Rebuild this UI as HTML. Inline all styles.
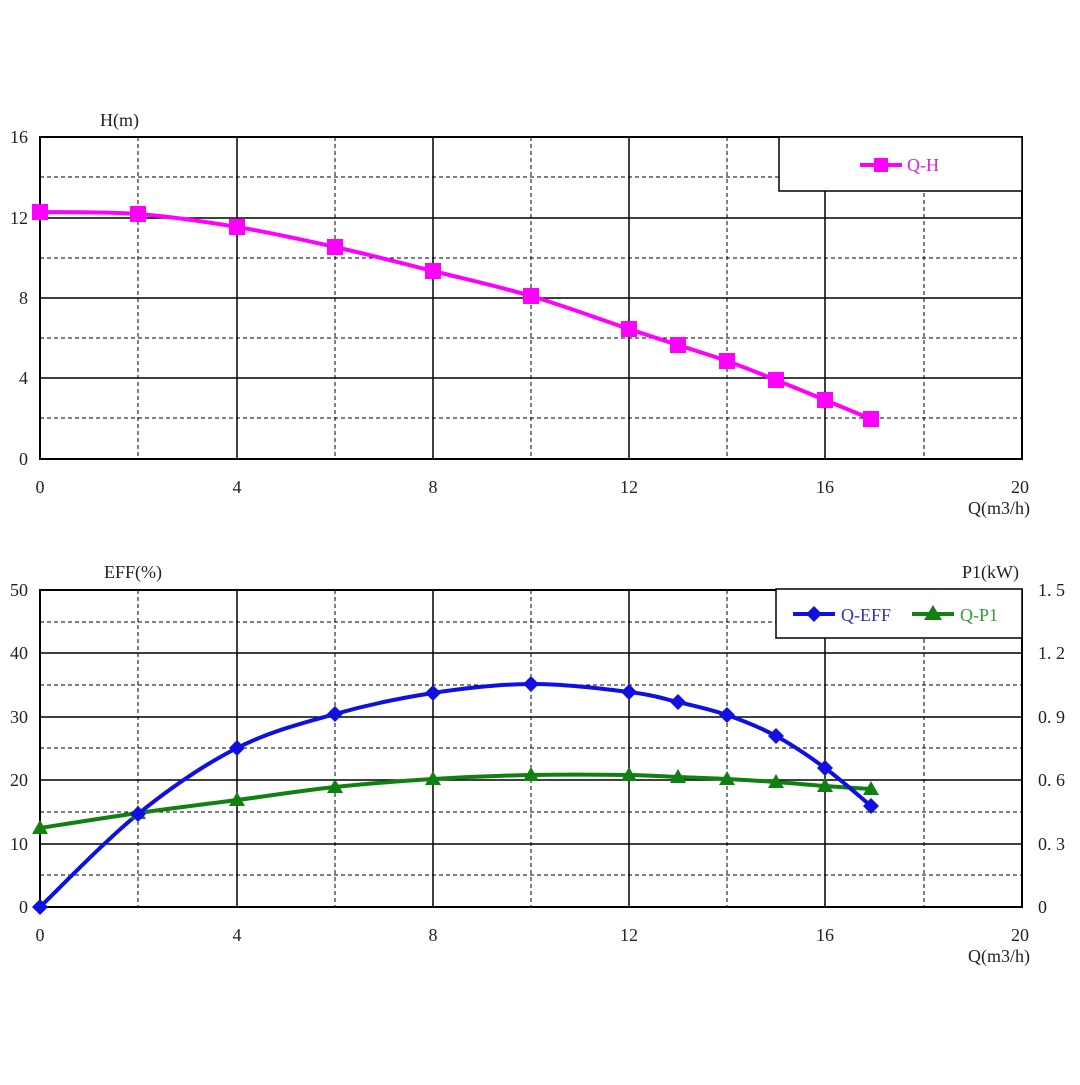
<!DOCTYPE html>
<html><head><meta charset="utf-8"><style>
html,body{margin:0;padding:0;background:#fff;}
svg text{font-family:"Liberation Serif","Noto Serif CJK SC",serif;font-size:18px;fill:#222;}
</style></head><body>
<svg width="1080" height="1080" viewBox="0 0 1080 1080" xmlns="http://www.w3.org/2000/svg">
<rect width="1080" height="1080" fill="#fff"/>
<!-- TOP CHART -->
<g stroke="#000" stroke-width="1" stroke-dasharray="4,3">
<line x1="40" y1="177" x2="1022" y2="177"/><line x1="40" y1="258" x2="1022" y2="258"/>
<line x1="40" y1="338" x2="1022" y2="338"/><line x1="40" y1="418" x2="1022" y2="418"/>
<line x1="138" y1="137" x2="138" y2="459"/><line x1="335" y1="137" x2="335" y2="459"/>
<line x1="531" y1="137" x2="531" y2="459"/><line x1="727" y1="137" x2="727" y2="459"/>
<line x1="924" y1="137" x2="924" y2="459"/>
</g>
<g stroke="#000" stroke-width="1.5">
<line x1="40" y1="218" x2="1022" y2="218"/><line x1="40" y1="298" x2="1022" y2="298"/>
<line x1="40" y1="378" x2="1022" y2="378"/>
<line x1="237" y1="137" x2="237" y2="459"/><line x1="433" y1="137" x2="433" y2="459"/>
<line x1="629" y1="137" x2="629" y2="459"/><line x1="825" y1="137" x2="825" y2="459"/>
<rect x="40" y="137" width="982" height="322" fill="none" stroke-width="2"/>
</g>
<rect x="779" y="137" width="243" height="54" fill="#fff" stroke="#000" stroke-width="1.5"/>
<line x1="860" y1="165" x2="902" y2="165" stroke="#f0f" stroke-width="4"/>
<rect x="874" y="158" width="14" height="14" fill="#f0f"/>
<text x="907" y="171" style="fill:#e020e0">Q-H</text>
<polyline class="sm" fill="none" stroke="#f0f" stroke-width="4" stroke-linejoin="round" points="40,212 138,214 237,227 335,247 433,271 531,296 629,329 678,345 727,361 776,380 825,400 871,419"/>
<g fill="#f0f">
<rect x="32" y="204" width="16" height="16"/><rect x="130" y="206" width="16" height="16"/>
<rect x="229" y="219" width="16" height="16"/><rect x="327" y="239" width="16" height="16"/>
<rect x="425" y="263" width="16" height="16"/><rect x="523" y="288" width="16" height="16"/>
<rect x="621" y="321" width="16" height="16"/><rect x="670" y="337" width="16" height="16"/>
<rect x="719" y="353" width="16" height="16"/><rect x="768" y="372" width="16" height="16"/>
<rect x="817" y="392" width="16" height="16"/><rect x="863" y="411" width="16" height="16"/>
</g>
<text x="100" y="126">H(m)</text>
<g text-anchor="end">
<text x="28" y="143">16</text><text x="28" y="224">12</text><text x="28" y="304">8</text>
<text x="28" y="384">4</text><text x="28" y="465">0</text>
</g>
<g text-anchor="middle">
<text x="40" y="493">0</text><text x="237" y="493">4</text><text x="433" y="493">8</text>
<text x="629" y="493">12</text><text x="825" y="493">16</text><text x="1020" y="493">20</text>
</g>
<text x="1030" y="514" text-anchor="end">Q(m3/h)</text>

<!-- BOTTOM CHART -->
<g stroke="#000" stroke-width="1" stroke-dasharray="4,3">
<line x1="40" y1="622" x2="1022" y2="622"/><line x1="40" y1="685" x2="1022" y2="685"/>
<line x1="40" y1="748" x2="1022" y2="748"/><line x1="40" y1="812" x2="1022" y2="812"/>
<line x1="40" y1="875" x2="1022" y2="875"/>
<line x1="138" y1="590" x2="138" y2="907"/><line x1="335" y1="590" x2="335" y2="907"/>
<line x1="531" y1="590" x2="531" y2="907"/><line x1="727" y1="590" x2="727" y2="907"/>
<line x1="924" y1="590" x2="924" y2="907"/>
</g>
<g stroke="#000" stroke-width="1.5">
<line x1="40" y1="653" x2="1022" y2="653"/><line x1="40" y1="717" x2="1022" y2="717"/>
<line x1="40" y1="780" x2="1022" y2="780"/><line x1="40" y1="844" x2="1022" y2="844"/>
<line x1="237" y1="590" x2="237" y2="907"/><line x1="433" y1="590" x2="433" y2="907"/>
<line x1="629" y1="590" x2="629" y2="907"/><line x1="825" y1="590" x2="825" y2="907"/>
<rect x="40" y="590" width="982" height="317" fill="none" stroke-width="2"/>
</g>
<rect x="776" y="589" width="246" height="49" fill="#fff" stroke="#000" stroke-width="1.5"/>
<line x1="793" y1="614" x2="835" y2="614" stroke="#1010e0" stroke-width="4"/>
<polygon points="814,606 822,614 814,622 806,614" fill="#1010e0"/>
<text x="841" y="621" style="fill:#3030c0">Q-EFF</text>
<line x1="912" y1="614" x2="954" y2="614" stroke="#108010" stroke-width="4"/>
<polygon points="933,605 942,620 924,620" fill="#108010"/>
<text x="960" y="621" style="fill:#30a030">Q-P1</text>
<polyline class="sm" fill="none" stroke="#108010" stroke-width="4" stroke-linejoin="round" points="40,828 138,813 237,800 335,787 433,779 531,775 629,775 678,777 727,779 776,782 825,786 871,789"/>
<polyline class="sm" fill="none" stroke="#1010e0" stroke-width="4" stroke-linejoin="round" points="40,907 138,814 237,748 335,714 433,693 531,684 629,692 678,702 727,715 776,736 825,768 871,806"/>
<g fill="#108010">
<polygon points="40,820 48,834 32,834"/><polygon points="138,805 146,819 130,819"/>
<polygon points="237,792 245,806 229,806"/><polygon points="335,779 343,793 327,793"/>
<polygon points="433,771 441,785 425,785"/><polygon points="531,767 539,781 523,781"/>
<polygon points="629,767 637,781 621,781"/><polygon points="678,769 686,783 670,783"/>
<polygon points="727,771 735,785 719,785"/><polygon points="776,774 784,788 768,788"/>
<polygon points="825,778 833,792 817,792"/><polygon points="871,781 879,795 863,795"/>
</g>
<g fill="#1010e0">
<polygon points="40,899 48,907 40,915 32,907"/><polygon points="138,806 146,814 138,822 130,814"/>
<polygon points="237,740 245,748 237,756 229,748"/><polygon points="335,706 343,714 335,722 327,714"/>
<polygon points="433,685 441,693 433,701 425,693"/><polygon points="531,676 539,684 531,692 523,684"/>
<polygon points="629,684 637,692 629,700 621,692"/><polygon points="678,694 686,702 678,710 670,702"/>
<polygon points="727,707 735,715 727,723 719,715"/><polygon points="776,728 784,736 776,744 768,736"/>
<polygon points="825,760 833,768 825,776 817,768"/><polygon points="871,798 879,806 871,814 863,806"/>
</g>
<text x="104" y="578">EFF(%)</text>
<text x="962" y="578">P1(kW)</text>
<g text-anchor="end">
<text x="28" y="596">50</text><text x="28" y="659">40</text><text x="28" y="723">30</text>
<text x="28" y="786">20</text><text x="28" y="850">10</text><text x="28" y="913">0</text>
</g>
<g text-anchor="start">
<text x="1038" y="596">1. 5</text><text x="1038" y="659">1. 2</text><text x="1038" y="723">0. 9</text>
<text x="1038" y="786">0. 6</text><text x="1038" y="850">0. 3</text><text x="1038" y="913">0</text>
</g>
<g text-anchor="middle">
<text x="40" y="941">0</text><text x="237" y="941">4</text><text x="433" y="941">8</text>
<text x="629" y="941">12</text><text x="825" y="941">16</text><text x="1020" y="941">20</text>
</g>
<text x="1030" y="962" text-anchor="end">Q(m3/h)</text>
</svg>
<script>
(function(){
var NS="http://www.w3.org/2000/svg";
var pls=document.querySelectorAll("polyline.sm");
for(var k=0;k<pls.length;k++){
 var pl=pls[k];
 var p=pl.getAttribute("points").trim().split(/\s+/).map(function(s){return s.split(",").map(Number);});
 var d="M"+p[0][0]+","+p[0][1];
 for(var i=0;i<p.length-1;i++){
  var p0=p[i-1]||p[i],p1=p[i],p2=p[i+1],p3=p[i+2]||p[i+1];
  var c1x=p1[0]+(p2[0]-p0[0])/6,c1y=p1[1]+(p2[1]-p0[1])/6;
  var c2x=p2[0]-(p3[0]-p1[0])/6,c2y=p2[1]-(p3[1]-p1[1])/6;
  d+=" C"+c1x+","+c1y+" "+c2x+","+c2y+" "+p2[0]+","+p2[1];
 }
 var path=document.createElementNS(NS,"path");
 path.setAttribute("d",d);
 ["fill","stroke","stroke-width","stroke-linejoin"].forEach(function(a){path.setAttribute(a,pl.getAttribute(a));});
 pl.parentNode.replaceChild(path,pl);
}
})();
</script>
</body></html>
